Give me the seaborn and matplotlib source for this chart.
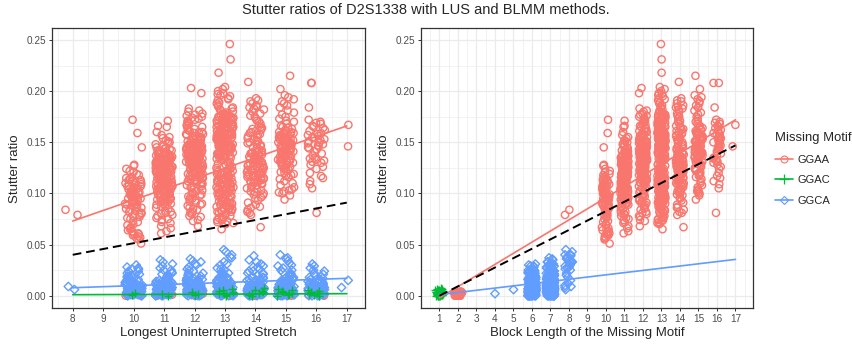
import numpy as np
import pandas as pd
import matplotlib
matplotlib.use('Agg')
import matplotlib.pyplot as plt
from matplotlib.lines import Line2D
from matplotlib.ticker import MultipleLocator
import seaborn as sns

# stutter ratios are written in per mille (x 1/1000) to keep the lists short

# ---- GGAA by LUS (block length == LUS for these) ----
ggaa_8 = [84, 79]
ggaa_10 = [172, 159, 145, 128, 127, 124, 122, 121, 119, 118,
           116, 115, 114, 113, 113, 112, 111, 110, 110, 109, 108, 108, 107, 107, 106, 105, 105,
           104, 104, 103, 103, 102, 102, 101, 101, 100, 100, 99, 99, 98, 98, 97, 97, 96, 96, 95,
           95, 94, 93, 93, 92, 91, 91, 90, 89, 89, 88, 87, 86, 86, 85, 84, 83, 82, 81, 80,
           79, 78, 77, 76, 75, 73, 72, 70, 69, 67, 66, 65, 64, 63, 62, 61, 60, 60, 59, 58, 57,
           56, 55, 51]
ggaa_11 = [171, 166, 165, 160, 157, 155, 154, 152, 151, 150, 149, 148, 147, 146,
           145, 144, 144, 143, 142, 142, 141, 140, 140, 139, 139, 138, 138, 137, 137, 136, 136,
           136, 135, 135, 135, 134, 134, 134, 133, 133, 133, 132, 132, 132, 131, 131, 131, 130,
           130, 130, 129, 129, 129, 128, 128, 128, 127, 127, 127, 126, 126, 126, 125, 125, 125,
           124, 124, 124, 123, 123, 123, 122, 122, 122, 121, 121, 121, 120, 120, 120, 119, 119,
           119, 118, 118, 118, 117, 117, 117, 116, 116, 116, 115, 115, 115, 114, 114, 114, 113,
           113, 113, 112, 112, 112, 111, 111, 111, 110, 110, 110, 109, 109, 109, 108, 108, 108,
           107, 107, 107, 106, 106, 106, 105, 105, 105, 104, 104, 104, 103, 103, 102, 102, 101,
           101, 100, 100, 99, 99, 98, 98, 97, 97, 96, 96, 95, 95, 94, 94, 93, 92, 92, 91, 90, 90,
           89, 88, 87, 86, 85,
           83, 82, 81, 80, 79, 78, 76, 75, 74, 72, 71, 68, 66, 63, 61]
ggaa_12 = [203, 198, 183, 181, 180, 178, 177, 176, 175, 174, 173, 172, 171, 170, 169, 168, 167,
           166, 165, 164, 163, 162, 161, 160, 160, 159, 158, 158, 157, 156, 156, 155, 155, 154,
           154, 153, 153, 152, 152, 151, 151, 150, 150, 149, 149, 148, 148, 148, 147, 147, 147,
           146, 146, 146, 145, 145, 145, 144, 144, 144, 143, 143, 143, 142, 142, 142, 141, 141,
           141, 140, 140, 140, 139, 139, 139, 138, 138, 138, 137, 137, 137, 136, 136, 136, 135,
           135, 135, 134, 134, 134, 133, 133, 133, 132, 132, 132, 131, 131, 131, 130, 130, 130,
           129, 129, 129, 128, 128, 128, 127, 127, 127, 126, 126, 126, 125, 125, 125, 124, 124,
           124, 123, 123, 122, 122, 121, 121, 120, 120, 119, 119, 118, 118, 117, 117, 116, 116,
           115, 115, 114, 114, 113, 113, 112, 112, 111, 111, 110, 110, 109, 109, 108, 107, 106,
           105, 104, 103, 102, 101, 100, 99, 98, 97, 96, 95, 94, 93, 92, 91, 90,
           89, 88, 86, 85, 84, 82, 81, 80, 78, 77, 74, 73, 68]
ggaa_13 = [246, 231, 218, 204, 202, 200, 198, 197, 196, 195, 193, 192, 191, 189, 188, 186, 185,
           184, 183, 182, 181, 180, 179,
           178, 178, 177, 177, 176, 176, 175, 175, 175, 174, 174, 174, 173, 173, 173, 172, 172,
           172, 171, 171, 171, 170, 170, 170, 169, 169, 169, 168, 168, 168, 167, 167, 167, 166,
           166, 166, 165, 165, 165, 164, 164, 164, 163, 163, 163, 162, 162, 162, 161, 161, 161,
           160, 160, 160, 159, 159, 159, 158, 158, 158, 157, 157, 157, 156, 156, 156, 155, 155,
           155, 154, 154, 154, 153, 153, 153, 152, 152, 152, 151, 151, 151, 150, 150, 150, 149,
           149, 149, 148, 148, 148, 147, 147, 147, 146, 146, 146, 145, 145, 145, 144, 144, 144,
           143, 143, 142, 142, 141, 141, 140, 140, 139, 139, 138, 138, 137, 137, 136, 136, 135,
           135, 134, 134,
           133, 132, 131, 130, 129, 128, 127, 126, 125, 124,
           123, 123, 122, 122, 121, 121, 120, 120, 119, 119, 118, 118, 117, 117, 116, 116, 115,
           115, 114, 114, 113, 113, 112, 112, 111, 111, 110, 110, 109, 109, 108, 108, 107, 107,
           106, 106, 105, 105, 104, 104, 103, 103, 102, 102, 101, 101, 100, 100, 99, 99, 98, 98,
           97, 97, 96, 96, 95, 95, 94, 94, 93, 93, 92, 92, 91, 91, 90, 90, 89, 89, 88, 88, 87,
           87, 86, 86, 85, 85, 84, 84, 83, 83, 82, 82, 81, 80,
           79, 78, 77, 76, 75, 74, 74, 73, 72, 71, 70, 65]
ggaa_14 = [209, 193, 191, 190, 188, 186, 185, 184, 183, 182, 180, 178, 176, 175, 173, 171, 170,
           168,
           166, 165, 164, 163, 162, 161, 160, 159, 158, 157, 156, 155, 154, 153, 152, 151, 150,
           149, 148, 147, 146, 145, 144, 143, 142, 141, 140, 140, 139, 139, 138, 138, 137, 137,
           136, 136, 135, 135, 134, 134, 133, 133, 132, 132, 131, 131, 130, 130, 129, 129, 128,
           128, 127, 127, 126, 126, 125, 125, 124, 124, 123, 123, 122, 122, 121, 121, 120, 120,
           119, 119, 118, 118, 117, 117, 116, 116, 115, 115, 114, 114, 113, 113, 112, 112, 111,
           111, 110, 110, 109, 108, 107, 106, 105, 104, 103, 102, 101, 100,
           99, 98, 96, 95, 93, 91, 89, 87, 86, 84, 82, 81, 79, 67]
ggaa_15 = [215, 202, 196, 194, 192, 190, 188, 186, 184, 181, 179, 177, 175, 173, 171, 170, 168,
           166, 165, 164, 163, 162, 161, 160, 160, 159, 159, 158, 158, 157, 157, 156, 156, 155,
           155, 154, 154, 153, 153, 152, 152, 151, 151, 150, 150, 149, 149, 148, 148, 147, 147,
           146, 146, 145, 145, 144, 144, 143, 143, 142, 142, 141, 141, 140, 140, 139, 139, 138,
           138, 137, 137, 136, 136, 135, 135, 134, 134, 133, 133, 132, 132, 131, 131, 130, 130,
           129, 128, 127, 126, 125, 124, 123, 122, 121, 120, 119, 118, 117, 116,
           114, 112, 110, 108, 106, 104, 103, 102, 101, 100, 98, 94]
ggaa_16 = [208, 208, 184, 172, 170, 169, 168, 166, 165, 164, 162, 161, 159, 158, 157, 156, 155,
           154, 153, 152, 151, 150, 149, 148, 147, 146, 145, 144, 143, 141, 139, 137, 135, 134,
           133, 132, 131, 130, 128, 126, 124, 120, 117, 115, 112, 109, 105, 81]
ggaa_17 = [167, 146]

# GGAA with block length 2 (ratios close to zero)
ggaa_b2_lus = [10, 10, 10, 10, 10, 11, 11, 11, 11, 11, 12, 12, 12, 12, 12, 13, 13, 13, 13, 13,
               13, 14, 14, 14, 14, 14, 15, 15, 15, 15, 15, 16, 16, 16, 16]
ggaa_b2_ratio = [0, 1, 2, 3, 1, 0, 1, 1, 2, 3, 0, 1, 2, 3, 2, 0, 1, 2, 2, 4, 3, 0, 1, 3, 4, 2,
                 0, 1, 2, 3, 1, 0, 2, 3, 1]

# GGAC (block length 1)
ggac_lus = [10, 10, 11, 11, 12, 12, 12, 13, 13, 13, 13, 13, 13, 13, 13, 14, 14, 14, 14, 14,
            14, 14, 14, 15, 15, 15, 15, 15, 15, 15, 15, 16, 16, 16, 16, 16, 16, 16]
ggac_ratio = [1, 3, 2, 0, 1, 4, 2, 0, 2, 3, 4, 5, 6, 1, 7, 0, 1, 3, 4, 6, 8, 2, 5, 0, 2, 3, 5,
              6, 1, 4, 7, 0, 1, 3, 4, 6, 2, 5]

# GGCA, split by block length of the missing motif (6 and 7) for each LUS
ggca_b6_10 = [0, 0, 1, 1, 1, 2, 2, 2, 3, 3, 3, 4, 4, 4, 5, 5, 5, 6, 6, 6, 7, 7, 8, 8, 9, 9, 10,
              10, 11, 11, 12, 13, 13, 14, 15, 16, 17, 19, 21, 24, 27]
ggca_b7_10 = [0, 0, 1, 1, 1, 2, 2, 2, 3, 3, 3, 4, 4, 4, 5, 5, 5, 6, 6, 6, 7, 7, 7, 8, 8, 8, 9,
              9, 10, 10, 11, 11, 12, 12, 13, 13, 14, 15, 16, 17, 18, 19, 20, 22, 24, 26, 28]
ggca_b6_11 = [0, 0, 1, 1, 1, 2, 2, 2, 3, 3, 3, 4, 4, 4, 5, 5, 6, 6, 6, 7, 7, 8, 8, 8, 9, 9, 10,
              10, 11, 11, 12, 13, 14, 14, 15, 16, 18, 20, 22, 25, 29]
ggca_b7_11 = [0, 0, 1, 1, 2, 2, 2, 3, 3, 3, 4, 4, 4, 5, 5, 5, 6, 6, 6, 7, 7, 7, 8, 8, 8, 9, 9,
              10, 10, 11, 11, 12, 12, 13, 13, 14, 15, 16, 17, 18, 19, 20, 21, 23, 25, 27, 31]
ggca_b6_12 = [0, 0, 1, 1, 1, 2, 2, 3, 3, 3, 4, 4, 4, 5, 5, 5, 6, 6, 6, 7, 7, 7, 8, 8, 9, 9, 10,
              10, 11, 12, 12, 13, 14, 15, 16, 17, 19, 22, 25, 30]
ggca_b7_12 = [0, 0, 1, 1, 1, 2, 2, 3, 3, 3, 4, 4, 4, 5, 5, 5, 6, 6, 6, 7, 7, 7, 8, 8, 8, 9, 9,
              10, 10, 11, 11, 12, 12, 13, 14, 14, 15, 16, 17, 18, 19, 20, 22, 24, 26, 28, 31, 33]
ggca_b6_13 = [0, 0, 1, 1, 1, 2, 2, 2, 3, 3, 4, 4, 4, 5, 5, 5, 6, 6, 6, 7, 7, 8, 8, 8, 9, 9, 10,
              10, 11, 12, 12, 13, 14, 15, 17, 18, 20, 23, 26, 31]
ggca_b7_13 = [0, 0, 1, 1, 1, 2, 2, 2, 3, 3, 3, 4, 4, 4, 5, 5, 5, 6, 6, 6, 7, 7, 7, 8, 8, 8, 9,
              9, 10, 10, 11, 11, 12, 12, 13, 13, 14, 15, 16, 17, 18, 19, 20, 21, 23, 25, 27, 30,
              33, 37]
ggca_b6_14 = [0, 0, 1, 1, 1, 2, 2, 2, 3, 3, 3, 4, 4, 4, 5, 5, 5, 6, 6, 7, 7, 7, 8, 8, 9, 9, 10,
              10, 11, 12, 12, 13, 14, 15, 16, 18, 20, 22, 24, 28]
ggca_b7_14 = [0, 0, 1, 1, 1, 2, 2, 2, 3, 3, 3, 4, 4, 5, 5, 5, 6, 6, 6, 7, 7, 7, 8, 8, 8, 9, 9,
              10, 10, 11, 11, 12, 13, 13, 14, 15, 16, 17, 18, 19, 21, 22, 24, 26, 29, 31, 35]
ggca_b6_15 = [0, 0, 1, 1, 1, 2, 2, 2, 3, 3, 3, 4, 4, 4, 5, 5, 6, 6, 6, 7, 7, 8, 8, 9, 9, 9, 10,
              10, 11, 12, 12, 13, 14, 15, 16, 17, 19, 22, 25, 29]
ggca_b7_15 = [0, 0, 1, 1, 1, 2, 2, 2, 3, 3, 4, 4, 4, 5, 5, 5, 6, 6, 6, 7, 7, 7, 8, 8, 8, 9, 9,
              10, 10, 11, 11, 12, 12, 13, 14, 15, 16, 17, 18, 20, 21, 23, 25, 27, 30, 32, 36]
ggca_b6_16 = [0, 0, 1, 1, 2, 2, 2, 3, 3, 4, 4, 4, 5, 5, 6, 6, 7, 7, 8, 8, 9, 9, 10, 11, 12, 13,
              14, 16, 18, 21]
ggca_b7_16 = [0, 0, 1, 1, 2, 2, 3, 3, 3, 4, 4, 5, 5, 5, 6, 6, 7, 7, 8, 8, 9, 9, 10, 10, 11, 12,
              13, 14, 15, 16, 17, 19, 20, 22, 24]
# GGCA with block length 8, and the two odd ones at block 4 and 5
ggca_b8_lus = [8, 8, 10, 10, 11, 11, 12, 12, 12, 13, 13, 13, 13, 13, 13, 14, 14, 14, 14,
               15, 15, 15, 15, 16, 16, 16, 16, 17, 17]
ggca_b8_ratio = [9, 6, 30, 26, 35, 33, 36, 34, 12, 45, 43, 40, 38, 22, 18, 39, 33, 28, 10, 40,
                 37, 34, 20, 31, 29, 27, 25, 15, 8]
ggca_b45_lus = [12, 14]
ggca_b45_block = [4, 5]
ggca_b45_ratio = [2, 6]

# fitted lines (value at start and end of the x range)
lus_range = [8, 17]
block_range = [1, 17]
fit_lus_ggaa = [0.073, 0.166]
fit_lus_ggac = [0.001, 0.002]
fit_lus_ggca = [0.0078, 0.017]
blmm_lus = [0.040, 0.091]
fit_blk_ggaa = [-0.002, 0.172]
fit_blk_ggca = [0.001, 0.0355]
blmm_blk = [0.0, 0.147]

motifs = ['GGAA', 'GGAC', 'GGCA']
colors = {'GGAA': '#F8766D', 'GGAC': '#00BA38', 'GGCA': '#619CFF'}

# build the long table
rows = []
ggaa_cols = {8: ggaa_8, 10: ggaa_10, 11: ggaa_11, 12: ggaa_12, 13: ggaa_13,
             14: ggaa_14, 15: ggaa_15, 16: ggaa_16, 17: ggaa_17}
for lus, vals in ggaa_cols.items():
    for v in vals:
        rows.append(('GGAA', lus, lus, v))
for lus, v in zip(ggaa_b2_lus, ggaa_b2_ratio):
    rows.append(('GGAA', lus, 2, v))
for lus, v in zip(ggac_lus, ggac_ratio):
    rows.append(('GGAC', lus, 1, v))
ggca_cols = {10: (ggca_b6_10, ggca_b7_10), 11: (ggca_b6_11, ggca_b7_11),
             12: (ggca_b6_12, ggca_b7_12), 13: (ggca_b6_13, ggca_b7_13),
             14: (ggca_b6_14, ggca_b7_14), 15: (ggca_b6_15, ggca_b7_15),
             16: (ggca_b6_16, ggca_b7_16)}
for lus, (b6, b7) in ggca_cols.items():
    for v in b6:
        rows.append(('GGCA', lus, 6, v))
    for v in b7:
        rows.append(('GGCA', lus, 7, v))
for lus, v in zip(ggca_b8_lus, ggca_b8_ratio):
    rows.append(('GGCA', lus, 8, v))
for lus, b, v in zip(ggca_b45_lus, ggca_b45_block, ggca_b45_ratio):
    rows.append(('GGCA', lus, b, v))
df = pd.DataFrame(rows, columns=['motif', 'lus', 'block', 'permille'])
df['ratio'] = df['permille'] / 1000.0

sns.set_theme(style='white')
plt.rcParams['font.family'] = ['Liberation Sans', 'DejaVu Sans']

fig = plt.figure(figsize=(8.52, 3.44), dpi=100)
ax1 = fig.add_axes([0.0607, 0.1032, 0.3674, 0.8154])
ax2 = fig.add_axes([0.4941, 0.1032, 0.3900, 0.8154])

np.random.seed(7)
mstyle = {
    'GGAA': dict(marker='o', size=5.2, facecolor='none', linewidth=1.0),
    'GGCA': dict(marker='D', size=4.3, facecolor='none', linewidth=1.0),
    'GGAC': dict(marker='+', size=5.5, linewidth=1.0),
}

for ax, xcol, jit in ((ax1, 'lus', 0.28), (ax2, 'block', 0.22)):
    for m in ['GGAA', 'GGCA', 'GGAC']:
        sub = df[df.motif == m]
        sns.stripplot(data=sub, x=xcol, y='ratio', orient='x', native_scale=True,
                      jitter=jit, ax=ax, color=colors[m], edgecolor=colors[m],
                      **mstyle[m])

# regression lines
ax1.plot(lus_range, fit_lus_ggaa, color=colors['GGAA'], lw=1.2, zorder=4)
ax1.plot(lus_range, fit_lus_ggac, color=colors['GGAC'], lw=1.2, zorder=4)
ax1.plot(lus_range, fit_lus_ggca, color=colors['GGCA'], lw=1.2, zorder=4)
ax1.plot(lus_range, blmm_lus, color='black', lw=1.4, ls=(0, (4.5, 2.5)), zorder=5)
ax2.plot(block_range, fit_blk_ggaa, color=colors['GGAA'], lw=1.2, zorder=4)
ax2.plot(block_range, fit_blk_ggca, color=colors['GGCA'], lw=1.2, zorder=4)
ax2.plot(block_range, blmm_blk, color='black', lw=1.4, ls=(0, (4.5, 2.5)), zorder=5)

ax1.set_xlim(7.31, 17.59)
ax1.set_xticks(range(8, 18))
ax2.set_xlim(0.0, 17.96)
ax2.set_xticks(range(1, 18))
ax1.set_xlabel('Longest Uninterrupted Stretch')
ax2.set_xlabel('Block Length of the Missing Motif')

for ax in (ax1, ax2):
    ax.set_ylim(-0.0125, 0.2617)
    ax.set_yticks([0.0, 0.05, 0.10, 0.15, 0.20, 0.25])
    ax.set_yticklabels(['0.00', '0.05', '0.10', '0.15', '0.20', '0.25'])
    ax.xaxis.set_minor_locator(MultipleLocator(0.5))
    ax.yaxis.set_minor_locator(MultipleLocator(0.025))
    ax.set_axisbelow(True)
    ax.grid(which='major', color='#EBEBEB', lw=0.9)
    ax.grid(which='minor', color='#EBEBEB', lw=0.45)
    ax.set_ylabel('Stutter ratio', fontsize=9.5, labelpad=4)
    ax.xaxis.label.set_fontsize(9.5)
    ax.xaxis.labelpad = 2
    ax.tick_params(which='major', length=2.5, width=0.7, color='#333333',
                   labelsize=7.2, labelcolor='#4D4D4D', pad=1.5, bottom=True, left=True)
    ax.tick_params(which='minor', length=0)
    for s in ax.spines.values():
        s.set_color('#333333')
        s.set_linewidth(0.9)
        s.set_visible(True)

fig.text(0.5, 1 - 10 / 344, 'Stutter ratios of D2S1338 with LUS and BLMM methods.',
         ha='center', va='center', fontsize=10.5)

handles = []
for m in motifs:
    if m == 'GGAC':
        h = Line2D([], [], color=colors[m], lw=1.2, marker='+', markersize=6.5, mew=0.9)
    elif m == 'GGAA':
        h = Line2D([], [], color=colors[m], lw=1.2, marker='o', markersize=5,
                   markerfacecolor='none', mew=0.8)
    else:
        h = Line2D([], [], color=colors[m], lw=1.2, marker='D', markersize=4.2,
                   markerfacecolor='none', mew=0.8)
    handles.append(h)
fig.legend(handles, motifs, title='Missing Motif', loc='upper left',
           bbox_to_anchor=(0.898, 0.645), frameon=False, fontsize=8, title_fontsize=9.4,
           handlelength=1.6, handletextpad=0.4, labelspacing=0.95, alignment='left')

fig.savefig('out.png', dpi=100)
